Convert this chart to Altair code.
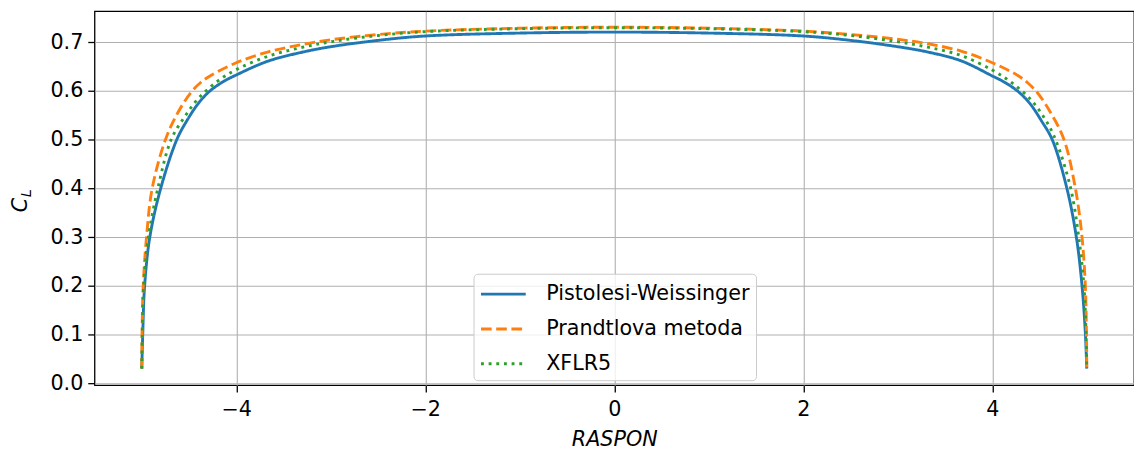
import altair as alt
import pandas as pd

# Pistolesi-Weissinger (solid blue)
pw_x = [-5.00, -4.99, -4.97, -4.915, -4.80, -4.63, -4.52, -4.40, -4.28, -4.14, -4.00, -3.67, -3.32, -3.00, -2.50, -2.00,
        -1.00, 0.00, 1.00, 2.00, 2.50, 3.00, 3.32, 3.67, 4.00, 4.14, 4.28, 4.40, 4.52, 4.635, 4.79, 4.89, 4.95, 4.986, 5.00]
pw_y = [0.03, 0.10, 0.20, 0.30, 0.40, 0.50, 0.540, 0.575, 0.600, 0.619, 0.633, 0.661, 0.679, 0.691, 0.704, 0.713,
        0.719, 0.721, 0.719, 0.713, 0.704, 0.691, 0.680, 0.662, 0.631, 0.617, 0.598, 0.574, 0.539, 0.50, 0.40, 0.30, 0.20, 0.10, 0.03]

# Prandtlova metoda (dashed orange)
pr_x = [-5.00, -4.997, -4.985, -4.95, -4.89, -4.75, -4.62, -4.48, -4.38, -4.27, -4.00, -3.67, -3.32, -2.97, -2.50, -2.00,
        -1.00, 0.00, 1.00, 2.00, 2.50, 2.97, 3.32, 3.67, 4.00, 4.27, 4.38, 4.48, 4.62, 4.76, 4.88, 4.95, 4.985, 4.997, 5.00]
pr_y = [0.03, 0.10, 0.20, 0.30, 0.40, 0.50, 0.555, 0.597, 0.617, 0.632, 0.658, 0.680, 0.695, 0.706, 0.716, 0.723,
        0.729, 0.731, 0.729, 0.723, 0.716, 0.707, 0.697, 0.682, 0.658, 0.632, 0.616, 0.596, 0.555, 0.50, 0.40, 0.30, 0.20, 0.10, 0.03]

# XFLR5 (dotted green)
xf_x = [-5.00, -4.995, -4.98, -4.93, -4.83, -4.69, -4.55, -4.40, -4.20, -4.00, -3.67, -3.32, -2.97, -2.50, -2.00,
        -1.00, 0.00, 1.00, 2.00, 2.50, 2.97, 3.32, 3.67, 4.00, 4.20, 4.40, 4.55, 4.67, 4.83, 4.915, 4.97, 4.993, 5.00]
xf_y = [0.03, 0.10, 0.20, 0.30, 0.40, 0.50, 0.546, 0.585, 0.620, 0.644, 0.671, 0.689, 0.702, 0.714, 0.722,
        0.728, 0.730, 0.728, 0.722, 0.714, 0.702, 0.690, 0.673, 0.643, 0.618, 0.584, 0.545, 0.50, 0.40, 0.30, 0.20, 0.10, 0.03]

series_names = ["Pistolesi-Weissinger", "Prandtlova metoda", "XFLR5"]
series_colors = ["#1f77b4", "#ff7f0e", "#2ca02c"]
series_dashes = [[1, 0], [10.7, 4.6], [2.9, 4.8]]

x_ticks = [-4, -2, 0, 2, 4]
y_ticks = [0.0, 0.1, 0.2, 0.3, 0.4, 0.5, 0.6, 0.7]

frames = []
for name, xs, ys in zip(series_names, [pw_x, pr_x, xf_x], [pw_y, pr_y, xf_y]):
    frames.append(pd.DataFrame({"raspon": xs, "cl": ys, "metoda": name, "idx": range(len(xs))}))
df = pd.concat(frames, ignore_index=True)

FONT = "DejaVu Sans"
FS = 20.8

lines = alt.Chart(df).mark_line(strokeWidth=2.9, interpolate="catmull-rom").encode(
    x=alt.X("raspon:Q",
            scale=alt.Scale(domain=[-5.5, 5.5], nice=False, zero=False),
            axis=alt.Axis(values=x_ticks, title="RASPON", titleFontStyle="italic",
                          titleFontWeight="normal", titleFontSize=FS, titleFont=FONT,
                          titleColor="#000000", titlePadding=10, labelPadding=8)),
    y=alt.Y("cl:Q",
            scale=alt.Scale(domain=[-0.004, 0.764], nice=False, zero=False),
            axis=alt.Axis(values=y_ticks, format=".1f", title="", labelPadding=5)),
    color=alt.Color("metoda:N",
                    scale=alt.Scale(domain=series_names, range=series_colors),
                    legend=alt.Legend(title=None, orient="none", legendX=381, legendY=264,
                                      symbolType="M-1,0H2.4615", symbolSize=676,
                                      symbolStrokeWidth=2.9, symbolFillColor="transparent",
                                      labelFontSize=FS, labelFont=FONT, labelColor="#000000",
                                      labelOffset=38, labelLimit=400, padding=6, rowPadding=10,
                                      fillColor="rgba(255,255,255,0.8)", strokeColor="#cccccc",
                                      cornerRadius=4)),
    strokeDash=alt.StrokeDash("metoda:N",
                              scale=alt.Scale(domain=series_names, range=series_dashes),
                              legend=None),
    order="idx:Q",
)

# y axis title C_L (italic C with subscript L)
c_main = alt.Chart(pd.DataFrame({"t": ["C"]})).mark_text(
    angle=270, font=FONT, fontSize=FS, fontStyle="italic", color="#000000",
    align="center", baseline="middle"
).encode(x=alt.value(-74), y=alt.value(195), text="t:N")
c_sub = alt.Chart(pd.DataFrame({"t": ["L"]})).mark_text(
    angle=270, font=FONT, fontSize=14.6, fontStyle="italic", color="#000000",
    align="center", baseline="middle"
).encode(x=alt.value(-68), y=alt.value(183), text="t:N")

chart = alt.layer(lines, c_main, c_sub).properties(
    width=1045, height=376,
    autosize=alt.AutoSizeParams(type="none"),
    padding={"left": 87, "top": 2, "right": 0, "bottom": 65},
).configure(font=FONT).configure_view(
    stroke="#000000", strokeWidth=1.3
).configure_axis(
    grid=True, gridColor="#b0b0b0", gridWidth=1.1, domain=False,
    tickColor="#000000", tickWidth=1.3, tickSize=6.8,
    labelFont=FONT, labelFontSize=FS, labelColor="#000000", labelFlush=False,
)

chart.save("out.html", embed_options={"renderer": "svg", "actions": False})
